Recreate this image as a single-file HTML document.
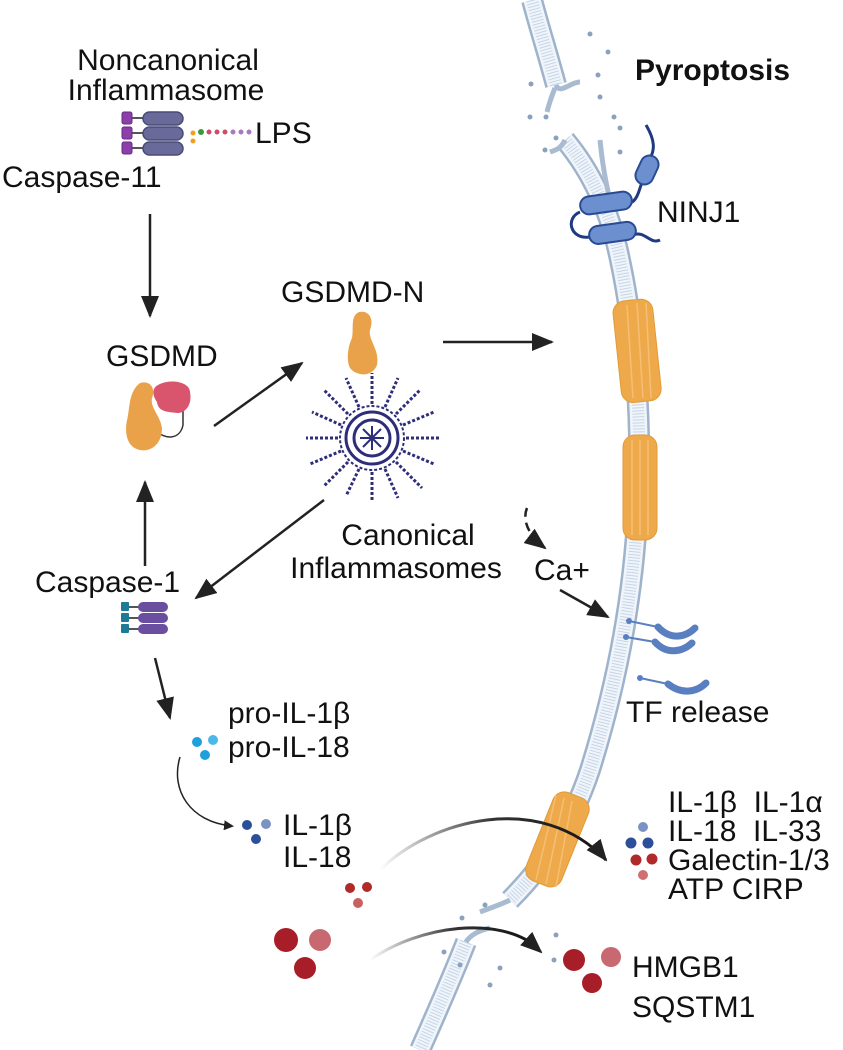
<!DOCTYPE html>
<html><head><meta charset="utf-8"><style>
html,body{margin:0;padding:0;background:#fff;}
svg{display:block}
text{font-family:"Liberation Sans",sans-serif;fill:#111;font-size:30px}
</style></head><body>
<svg width="843" height="1050" viewBox="0 0 843 1050" xmlns="http://www.w3.org/2000/svg">
<defs>
<marker id="ah" markerWidth="10" markerHeight="10" refX="8" refY="5" orient="auto" markerUnits="userSpaceOnUse" viewBox="0 0 10 10">
<path d="M0,0 L10,5 L0,10 Z" fill="#222"/></marker>
<marker id="ahL" markerWidth="22" markerHeight="18" refX="20" refY="9" orient="auto" markerUnits="userSpaceOnUse" viewBox="0 0 22 18">
<path d="M0,0 L22,9 L0,18 Z" fill="#222"/></marker>
<linearGradient id="g1" x1="0" y1="0" x2="1" y2="0"><stop offset="0" stop-color="#fff"/><stop offset="0.5" stop-color="#333"/><stop offset="1" stop-color="#111"/></linearGradient>
</defs>

<!-- membrane -->
<g fill="none" stroke-linecap="butt">
 <g stroke="#9fb3cb" stroke-width="22">
  <path d="M532,0 C540,30 548,55 556,85"/>
  <path d="M565,140 C590,170 610,210 620,260 C635,330 642,420 638,500 C634,600 615,690 590,770 C570,830 540,870 510,900"/>
  <path d="M466,942 C455,970 440,1005 420,1050"/>
 </g>
 <g stroke="#f0f5fb" stroke-width="17">
  <path d="M532,0 C540,30 548,55 556,85"/>
  <path d="M565,140 C590,170 610,210 620,260 C635,330 642,420 638,500 C634,600 615,690 590,770 C570,830 540,870 510,900"/>
  <path d="M466,942 C455,970 440,1005 420,1050"/>
 </g>
 <g stroke="#c6d4e6" stroke-width="12" stroke-dasharray="1 2">
  <path d="M532,0 C540,30 548,55 556,85"/>
  <path d="M565,140 C590,170 610,210 620,260 C635,330 642,420 638,500 C634,600 615,690 590,770 C570,830 540,870 510,900"/>
  <path d="M466,942 C455,970 440,1005 420,1050"/>
 </g>
 <path d="M556,85 C560,95 570,82 580,82" stroke="#a9bbd0" stroke-width="5"/>
 <path d="M555,88 C550,100 548,108 547,112" stroke="#a9bbd0" stroke-width="5"/>
 <path d="M565,140 C560,150 555,150 550,152" stroke="#a9bbd0" stroke-width="5"/>
 <path d="M600,140 C602,160 605,180 610,200" stroke="#a9bbd0" stroke-width="5"/>
 <path d="M510,900 C500,905 490,908 480,912" stroke="#a9bbd0" stroke-width="5"/>
 <path d="M466,942 C470,935 480,930 490,928" stroke="#a9bbd0" stroke-width="5"/>
</g>
<g fill="#8aa2bd">
 <circle cx="590" cy="34" r="2.5"/><circle cx="608" cy="52" r="2.5"/><circle cx="598" cy="75" r="2.5"/><circle cx="531" cy="84" r="2.5"/><circle cx="600" cy="97" r="2.5"/><circle cx="546" cy="117" r="2.5"/><circle cx="614" cy="117" r="2.5"/><circle cx="620" cy="128" r="2.5"/><circle cx="556" cy="138" r="2.5"/><circle cx="545" cy="150" r="2.5"/><circle cx="620" cy="152" r="2.5"/><circle cx="530" cy="117" r="2.5"/>
 <circle cx="485" cy="905" r="2.5"/><circle cx="462" cy="918" r="2.5"/><circle cx="556" cy="935" r="2.5"/><circle cx="444" cy="952" r="2.5"/><circle cx="460" cy="965" r="2.5"/><circle cx="554" cy="960" r="2.5"/><circle cx="490" cy="985" r="2.5"/><circle cx="500" cy="968" r="2.5"/>
</g>

<!-- pores -->
<g fill="#eeaa4a" stroke="#e39a38" stroke-width="1">
 <rect x="617" y="300" width="40" height="102" rx="12" transform="rotate(-6 636 350)"/>
 <rect x="623" y="435" width="34" height="105" rx="12"/>
 <rect x="539" y="792" width="38" height="95" rx="12" transform="rotate(22 558 838)"/>
</g>
<g stroke="#f6c37f" stroke-width="1.5" fill="none" opacity="0.8">
 <path d="M627,305 L633,398 M637,303 L643,398 M646,303 L651,398"/>
 <path d="M632,440 L632,535 M640,440 L640,535 M648,440 L648,535"/>
 <path d="M556,795 L536,880 M564,798 L546,884 M572,801 L556,887"/>
</g>

<!-- NINJ1 -->
<g fill="#6b8fcf" stroke="#2a4a94" stroke-width="2">
 <path d="M646,125 C655,140 655,150 650,158" fill="none" stroke="#1f3a80" stroke-width="3"/>
 <path d="M580,212 C565,218 570,240 590,237 M630,203 C640,200 640,180 646,175 M633,235 C645,230 650,245 660,240" fill="none" stroke="#1f3a80" stroke-width="3"/>
 <rect x="638" y="155" width="18" height="30" rx="9" transform="rotate(25 647 170)"/>
 <rect x="580" y="194" width="52" height="18" rx="9" transform="rotate(-8 606 203)"/>
 <rect x="589" y="224" width="47" height="18" rx="9" transform="rotate(-8 612 233)"/>
</g>

<!-- TF -->
<g stroke="#5a7fc0" fill="none">
 <path d="M629,621 L658,627" stroke-width="2"/><path d="M626,637 L655,642" stroke-width="2"/><path d="M640,678 L668,684" stroke-width="2"/>
 <path d="M658,627 C670,640 685,638 695,628" stroke-width="7" stroke-linecap="round"/>
 <path d="M655,642 C667,655 682,652 692,643" stroke-width="7" stroke-linecap="round"/>
 <path d="M668,684 C682,695 697,692 706,683" stroke-width="7" stroke-linecap="round"/>
</g>
<g fill="#5a7fc0"><circle cx="629" cy="621" r="3"/><circle cx="626" cy="637" r="3"/><circle cx="640" cy="678" r="3"/></g>

<!-- Caspase-11 icon -->
<g>
 <g stroke="#555" stroke-width="2"><line x1="130" y1="118" x2="145" y2="118"/><line x1="130" y1="133" x2="145" y2="133"/><line x1="130" y1="148" x2="145" y2="148"/></g>
 <g fill="#8b3fa8" stroke="#6a2a85"><rect x="122" y="112" width="10" height="12" rx="2"/><rect x="122" y="127" width="10" height="12" rx="2"/><rect x="122" y="142" width="10" height="12" rx="2"/></g>
 <g fill="#6a6a9a" stroke="#4a4a78" stroke-width="1.5"><rect x="143" y="112" width="40" height="13" rx="6.5"/><rect x="143" y="127" width="40" height="13" rx="6.5"/><rect x="143" y="142" width="40" height="13" rx="6.5"/></g>
 <g fill="#f0a020"><circle cx="193" cy="133" r="2.5"/><circle cx="193" cy="141" r="2.5"/></g>
 <circle cx="201" cy="132" r="3" fill="#3a9a3a"/>
 <g fill="#d04a6a"><circle cx="209" cy="132" r="2.5"/><circle cx="217" cy="132" r="2.5"/><circle cx="225" cy="132" r="2.5"/></g>
 <g fill="#a878c0"><circle cx="233" cy="132" r="2.5"/><circle cx="241" cy="132" r="2.5"/><circle cx="249" cy="132" r="2.5"/></g>
</g>

<!-- GSDMD -->
<path d="M155,430 C165,440 180,440 183,425 L183,405" fill="none" stroke="#333" stroke-width="1.5"/>
<path d="M158,385 C170,378 190,382 190,392 C192,402 188,412 178,413 C168,412 158,412 157,402 C152,395 152,388 158,385 Z" fill="#d9556e"/>
<path d="M140,383 C150,380 156,388 152,398 C150,408 160,415 162,428 C162,445 150,452 140,450 C128,448 124,435 127,420 C130,410 128,392 140,383 Z" fill="#eaa24a"/>
<path d="M359,312 C370,310 374,320 370,330 C368,340 380,350 377,365 C372,378 356,376 350,368 C346,360 348,346 352,338 C354,328 350,316 359,312 Z" fill="#eaa24a"/>

<!-- canonical inflammasome -->
<g transform="translate(372,438)" stroke="#2d2d7a" fill="none">
 <circle r="18" stroke-width="3"/><circle r="26" stroke-width="3"/><circle r="32" stroke-width="2" stroke-dasharray="3 2"/>
 <g stroke-width="2">
  <line x1="-12" y1="0" x2="12" y2="0"/><line x1="0" y1="-12" x2="0" y2="12"/><line x1="-9" y1="-9" x2="9" y2="9"/><line x1="-9" y1="9" x2="9" y2="-9"/>
 </g>
 <g stroke-width="3" stroke-dasharray="3 2">
  <line x1="34" y1="0" x2="68" y2="0"/><line x1="-34" y1="0" x2="-66" y2="0"/><line x1="0" y1="-34" x2="0" y2="-65"/><line x1="0" y1="34" x2="0" y2="62"/>
  <line x1="24" y1="24" x2="50" y2="50"/><line x1="-24" y1="-24" x2="-48" y2="-48"/><line x1="24" y1="-24" x2="48" y2="-48"/><line x1="-24" y1="24" x2="-48" y2="48"/>
  <line x1="31" y1="-13" x2="62" y2="-26"/><line x1="-31" y1="13" x2="-62" y2="26"/><line x1="13" y1="31" x2="26" y2="60"/><line x1="-13" y1="-31" x2="-26" y2="-60"/>
  <line x1="31" y1="13" x2="62" y2="26"/><line x1="-31" y1="-13" x2="-60" y2="-26"/><line x1="-13" y1="31" x2="-26" y2="58"/><line x1="13" y1="-31" x2="26" y2="-60"/>
 </g>
</g>

<!-- Caspase-1 icon -->
<g>
 <g stroke="#555" stroke-width="2"><line x1="128" y1="607" x2="140" y2="607"/><line x1="128" y1="618" x2="140" y2="618"/><line x1="128" y1="629" x2="140" y2="629"/></g>
 <g fill="#1f7a96"><rect x="121" y="602" width="8" height="9" rx="1"/><rect x="121" y="613" width="8" height="9" rx="1"/><rect x="121" y="624" width="8" height="9" rx="1"/></g>
 <g fill="#6a4fa0"><rect x="138" y="602" width="30" height="10" rx="5"/><rect x="138" y="613" width="30" height="10" rx="5"/><rect x="138" y="624" width="30" height="10" rx="5"/></g>
</g>

<!-- dots -->
<circle cx="197" cy="742" r="5" fill="#1ea0dc"/><circle cx="213" cy="740" r="5" fill="#4ab8e8"/><circle cx="205" cy="755" r="5" fill="#1ea0dc"/>
<circle cx="247" cy="825" r="5" fill="#2c4f9a"/><circle cx="266" cy="824" r="5" fill="#7b93c4"/><circle cx="256" cy="839" r="5" fill="#2c4f9a"/>
<circle cx="350" cy="888" r="5" fill="#b02a2a"/><circle cx="367" cy="887" r="5" fill="#b02a2a"/><circle cx="358" cy="903" r="5" fill="#c96060"/>
<circle cx="643" cy="827" r="5" fill="#7b93c4"/><circle cx="631" cy="843" r="5.5" fill="#2c4f9a"/><circle cx="648" cy="843" r="5.5" fill="#2c4f9a"/>
<circle cx="636" cy="860" r="5.5" fill="#b02a2a"/><circle cx="652" cy="859" r="5.5" fill="#b02a2a"/><circle cx="643" cy="875" r="5" fill="#d07070"/>
<circle cx="286" cy="940" r="12" fill="#a81e28"/><circle cx="320" cy="940" r="11" fill="#c86870"/><circle cx="305" cy="968" r="11" fill="#a81e28"/>
<circle cx="574" cy="960" r="11" fill="#a81e28"/><circle cx="611" cy="957" r="10" fill="#c86870"/><circle cx="592" cy="983" r="10" fill="#a81e28"/>

<!-- arrows -->
<g stroke="#222" stroke-width="2.5" fill="none">
 <line x1="150" y1="214" x2="150" y2="316" marker-end="url(#ahL)"/>
 <line x1="214" y1="426" x2="302" y2="363" marker-end="url(#ahL)"/>
 <line x1="443" y1="342" x2="552" y2="342" marker-end="url(#ahL)"/>
 <line x1="145" y1="566" x2="145" y2="482" marker-end="url(#ahL)"/>
 <line x1="324" y1="500" x2="196" y2="598" marker-end="url(#ahL)"/>
 <line x1="155" y1="658" x2="170" y2="718" marker-end="url(#ahL)"/>
 <line x1="560" y1="590" x2="608" y2="617" marker-end="url(#ahL)"/>
 <path d="M527,508 C522,520 528,535 545,548" stroke-dasharray="9 6" marker-end="url(#ahL)"/>
 <path d="M180,757 C170,790 190,822 232,826" stroke-width="1.5" marker-end="url(#ah)"/>
</g>
<path d="M380,870 C430,820 540,790 606,860" stroke="url(#g1)" stroke-width="3" fill="none"/>
<path d="M598,850 L606,860" stroke="#222" stroke-width="2.5" marker-end="url(#ahL)"/>
<path d="M370,960 C420,925 500,915 538,948" stroke="url(#g1)" stroke-width="3" fill="none"/>
<path d="M530,942 L541,952" stroke="#222" stroke-width="2.5" marker-end="url(#ahL)"/>

<!-- text -->
<text x="168" y="70" text-anchor="middle" font-size="31">Noncanonical</text>
<text x="166" y="100" text-anchor="middle" font-size="31">Inflammasome</text>
<text x="255" y="143" font-size="31">LPS</text>
<text x="2" y="187" font-size="31">Caspase-11</text>
<text x="106" y="366" font-size="31">GSDMD</text>
<text x="281" y="302" font-size="31">GSDMD-N</text>
<text x="635" y="80" font-size="23" font-weight="bold">Pyroptosis</text>
<text x="657" y="222" font-size="28">NINJ1</text>
<text x="408" y="545" text-anchor="middle" font-size="31">Canonical</text>
<text x="396" y="578" text-anchor="middle" font-size="31">Inflammasomes</text>
<text x="35" y="592" font-size="31">Caspase-1</text>
<text x="534" y="580" font-size="29">Ca+</text>
<text x="626" y="722" font-size="30">TF release</text>
<text x="228" y="723" font-size="30">pro-IL-1β</text>
<text x="228" y="757" font-size="30">pro-IL-18</text>
<text x="283" y="835" font-size="30">IL-1β</text>
<text x="283" y="867" font-size="30">IL-18</text>
<text x="668" y="812" font-size="30" xml:space="preserve">IL-1β  IL-1α</text>
<text x="668" y="841" font-size="30" xml:space="preserve">IL-18  IL-33</text>
<text x="668" y="870" font-size="30">Galectin-1/3</text>
<text x="668" y="899" font-size="30">ATP CIRP</text>
<text x="632" y="977" font-size="30">HMGB1</text>
<text x="632" y="1017" font-size="30">SQSTM1</text>
</svg>
</body></html>
